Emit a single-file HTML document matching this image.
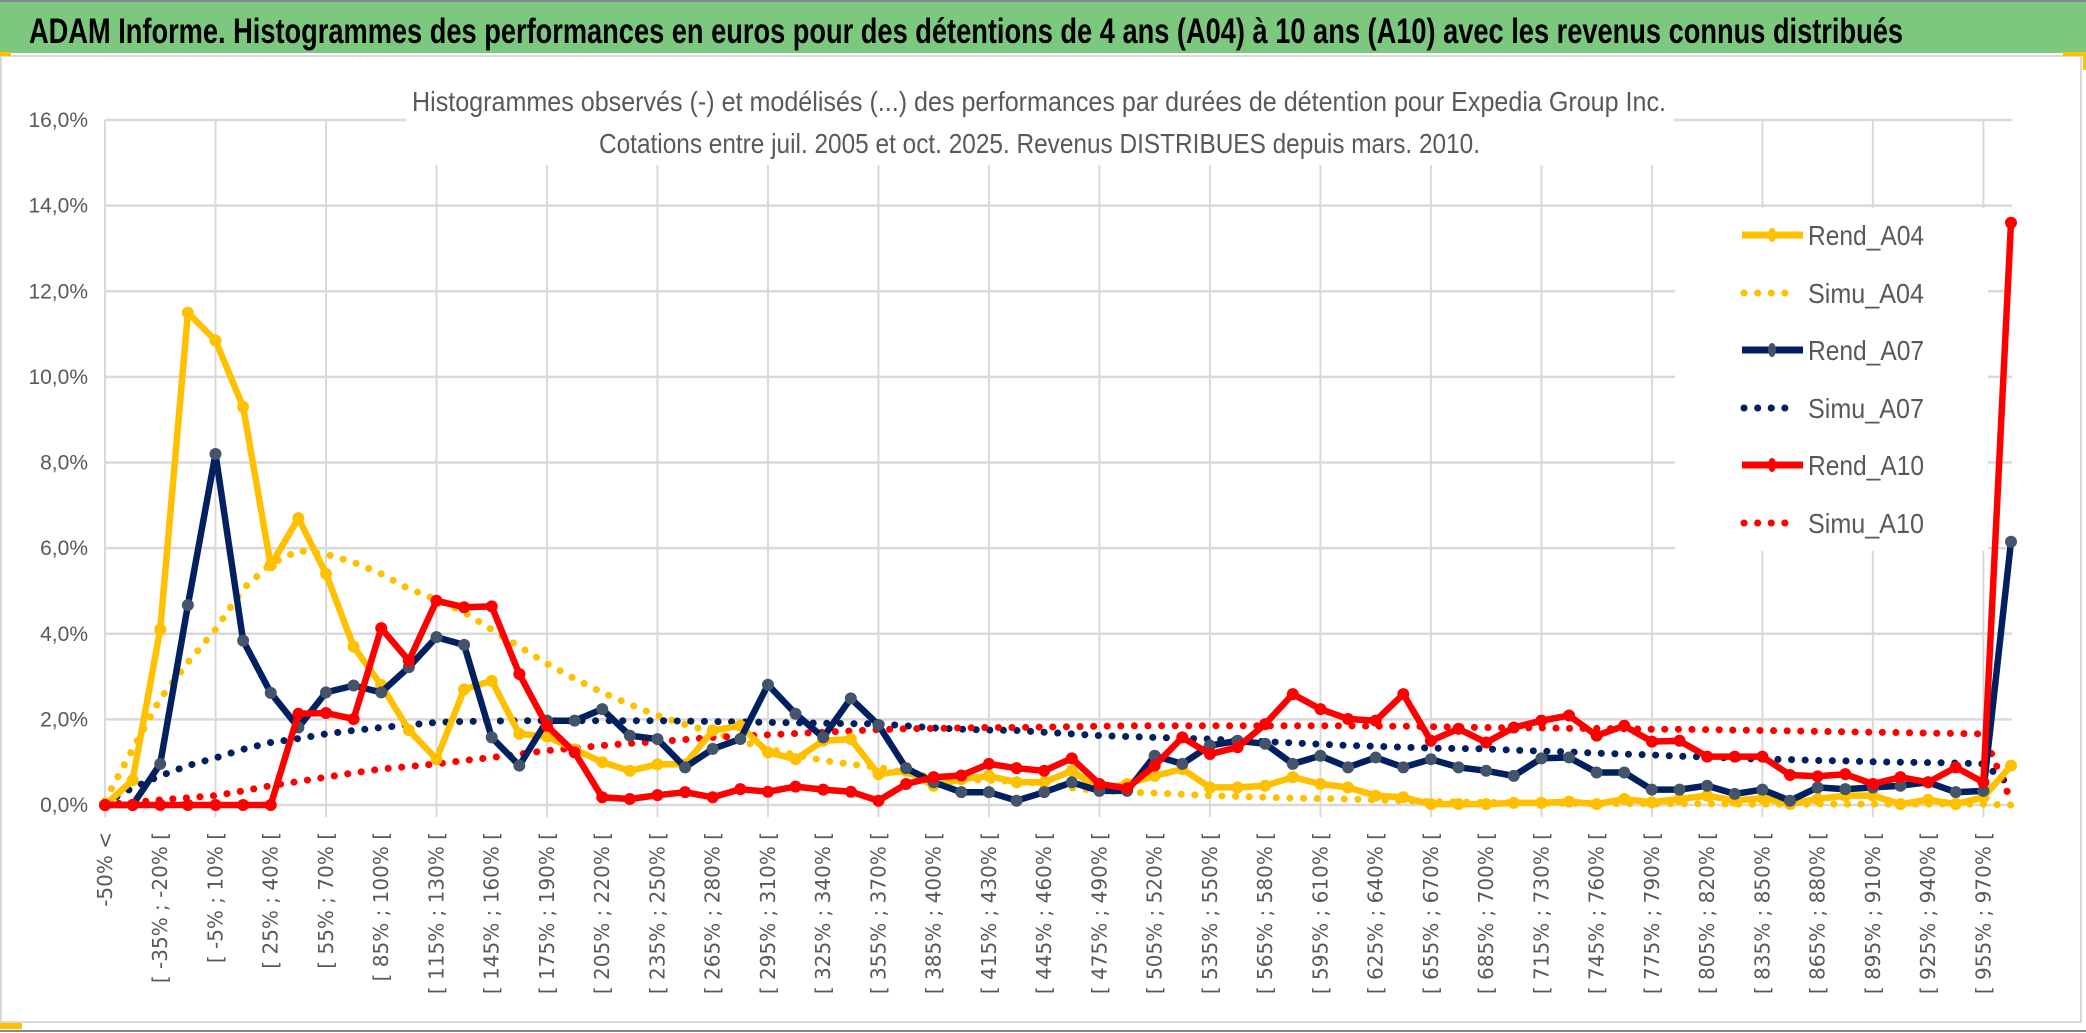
<!DOCTYPE html>
<html><head><meta charset="utf-8">
<style>
html,body{margin:0;padding:0;background:#fff;}
svg{display:block;}
text{font-family:"Liberation Sans Narrow","Liberation Sans",sans-serif;}
.xl{font-family:"DejaVu Sans","Liberation Sans",sans-serif;font-size:20px;fill:#595959;}
</style></head>
<body>
<svg id="chart" width="2086" height="1033" viewBox="0 0 2086 1033" xmlns="http://www.w3.org/2000/svg">
  <rect x="0" y="0" width="2086" height="1033" fill="#fff"/>
  <rect x="0" y="2" width="2086" height="51" fill="#7dc87f"/>
  <line x1="0" y1="1" x2="2086" y2="1" stroke="#888" stroke-width="2"/>
  <text x="29" y="43" font-size="35" font-weight="bold" fill="#000" textLength="1874" lengthAdjust="spacingAndGlyphs">ADAM Informe. Histogrammes des performances en euros pour des détentions de 4 ans (A04) à 10 ans (A10) avec les revenus connus distribués</text>
  <rect x="1" y="56" width="2080" height="966" fill="#fff" stroke="#d9d9d9" stroke-width="2"/>
  <line x1="0" y1="1031" x2="2086" y2="1031" stroke="#888" stroke-width="2"/>
  <rect x="0" y="52" width="11" height="4" fill="#ffc000"/>
  <rect x="0" y="1023" width="22" height="6" fill="#ffc000"/>
  <rect x="2063" y="52" width="23" height="4" fill="#ffc000"/>
  <rect x="2083" y="52" width="3" height="18" fill="#ffc000"/>
  <g id="grid"></g>
  <g id="series"></g>
  <g id="ylabels"></g>
  <g id="xlabels"></g>
  <rect x="406" y="58" width="1268" height="107" fill="#fff"/>
  <text x="412" y="111" font-size="28" fill="#595959" textLength="1254" lengthAdjust="spacingAndGlyphs">Histogrammes observés (-) et modélisés (...) des performances par durées de détention pour Expedia Group Inc.</text>
  <text x="599" y="153" font-size="28" fill="#595959" textLength="881" lengthAdjust="spacingAndGlyphs">Cotations entre juil. 2005 et oct. 2025. Revenus DISTRIBUES depuis mars. 2010.</text>
  <rect x="1675" y="208" width="313" height="343" fill="#fff"/>
  <g id="legend"></g>
</svg>
<script>
const categories = [];
(function(){
  categories.push("-50% <");
  for (let lo = -50; lo <= 970; lo += 15) categories.push("[ " + lo + "% ; " + (lo + 15) + "% [");
})();
const yTicks = [0, 2, 4, 6, 8, 10, 12, 14, 16];
const yTickLabels = ["0,0%","2,0%","4,0%","6,0%","8,0%","10,0%","12,0%","14,0%","16,0%"];
const rendA04 = [0,0.58,4.1,11.5,10.85,9.3,5.6,6.7,5.4,3.7,2.8,1.75,1.07,2.7,2.9,1.66,1.6,1.3,1.0,0.8,0.95,0.95,1.74,1.85,1.23,1.07,1.5,1.54,0.72,0.8,0.45,0.6,0.68,0.53,0.53,0.8,0.37,0.49,0.68,0.84,0.41,0.41,0.45,0.65,0.49,0.41,0.22,0.18,0.02,0.02,0.02,0.05,0.05,0.08,0.02,0.14,0.06,0.14,0.22,0.1,0.16,0.02,0.14,0.22,0.22,0.02,0.12,0.02,0.18,0.92];
const simuA04 = [0.1,1.3,2.48,3.33,4.1,5.05,5.63,5.94,5.86,5.67,5.4,5.05,4.8,4.5,4.1,3.7,3.3,2.95,2.63,2.35,2.09,1.88,1.7,1.5,1.31,1.17,1.04,0.95,0.88,0.75,0.65,0.6,0.58,0.55,0.5,0.4,0.33,0.3,0.28,0.25,0.22,0.2,0.18,0.16,0.15,0.14,0.12,0.1,0.08,0.07,0.06,0.05,0.05,0.04,0.04,0.03,0.03,0.03,0.03,0.02,0.02,0.02,0.02,0.02,0.02,0.02,0.02,0.02,0.02,0.0];
const rendA07 = [0,0,0.96,4.67,8.2,3.84,2.62,1.81,2.63,2.79,2.63,3.22,3.92,3.74,1.58,0.92,1.97,1.97,2.24,1.62,1.54,0.88,1.31,1.54,2.81,2.13,1.58,2.49,1.87,0.86,0.53,0.3,0.3,0.1,0.3,0.53,0.33,0.33,1.15,0.96,1.39,1.5,1.43,0.96,1.15,0.88,1.11,0.88,1.07,0.88,0.8,0.68,1.09,1.11,0.76,0.76,0.36,0.36,0.45,0.26,0.36,0.1,0.41,0.37,0.41,0.45,0.53,0.3,0.33,6.15];
const simuA07 = [0.05,0.4,0.68,0.92,1.1,1.3,1.46,1.55,1.66,1.74,1.81,1.87,1.93,1.95,1.96,1.97,1.97,1.97,1.97,1.97,1.97,1.96,1.95,1.94,1.93,1.92,1.91,1.9,1.9,1.85,1.8,1.77,1.75,1.74,1.7,1.66,1.62,1.6,1.58,1.56,1.54,1.51,1.48,1.45,1.42,1.39,1.37,1.35,1.33,1.32,1.31,1.28,1.26,1.24,1.21,1.19,1.17,1.14,1.12,1.09,1.07,1.06,1.04,1.03,1.01,1.0,0.99,0.98,0.96,0.45];
const rendA10 = [0,0,0,0,0,0,0,2.13,2.15,2.01,4.13,3.37,4.77,4.62,4.64,3.06,1.85,1.23,0.18,0.14,0.23,0.3,0.18,0.37,0.31,0.43,0.36,0.31,0.1,0.49,0.65,0.69,0.96,0.86,0.8,1.09,0.49,0.39,0.92,1.58,1.19,1.35,1.89,2.59,2.24,2.01,1.97,2.59,1.5,1.78,1.46,1.81,1.97,2.09,1.62,1.85,1.48,1.5,1.13,1.13,1.13,0.7,0.67,0.72,0.49,0.65,0.53,0.88,0.53,13.6];
const simuA10 = [0.02,0.06,0.12,0.17,0.22,0.33,0.45,0.55,0.65,0.75,0.84,0.9,0.96,1.04,1.11,1.19,1.27,1.33,1.39,1.44,1.48,1.53,1.58,1.61,1.64,1.67,1.7,1.73,1.76,1.78,1.79,1.8,1.81,1.81,1.82,1.83,1.84,1.85,1.85,1.85,1.85,1.85,1.85,1.85,1.85,1.85,1.84,1.84,1.83,1.82,1.81,1.8,1.8,1.79,1.79,1.78,1.77,1.77,1.76,1.75,1.74,1.73,1.72,1.71,1.7,1.69,1.68,1.67,1.66,0.1];
const seriesNames = ["Rend_A04","Simu_A04","Rend_A07","Simu_A07","Rend_A10","Simu_A10"];

const NS = "http://www.w3.org/2000/svg";
const X0 = 105, X1 = 2011, Y0 = 805, Y1 = 120, YMAX = 16;
const step = (X1 - X0) / (categories.length - 1);
function xs(i){ return X0 + i * step; }
function ys(v){ return Y0 - (v / YMAX) * (Y0 - Y1); }
function mk(tag, attrs, parent){
  const e = document.createElementNS(NS, tag);
  for (const k in attrs) e.setAttribute(k, attrs[k]);
  parent.appendChild(e);
  return e;
}
const grid = document.getElementById('grid');
yTicks.forEach((t, k) => {
  const l = mk('line', {x1: X0, x2: X1 + 1, y1: ys(t), y2: ys(t), stroke: '#d9d9d9', 'stroke-width': 2.5}, grid);
  
  
  const tx = mk('text', {x: 88, y: ys(t) + 7, 'text-anchor': 'end', 'font-size': 21, fill: '#595959'}, document.getElementById('ylabels'));
  tx.textContent = yTickLabels[k];
  
  
});
for (let i = 0; i < categories.length; i += 4) {
  const l = mk('line', {x1: xs(i), x2: xs(i), y1: Y1, y2: Y0 + 12, stroke: '#d9d9d9', 'stroke-width': 2}, grid);
  
  
}
const xl = document.getElementById('xlabels');
for (let i = 0; i < categories.length; i += 2) {
  const tx = mk('text', {class: 'xl', 'text-anchor': 'end', transform: 'translate(' + (xs(i) + 7) + ',832) rotate(-90)'}, xl);
  tx.textContent = categories[i];
  
  
}
const sg = document.getElementById('series');
function pts(arr){ return arr.map((v, i) => xs(i).toFixed(1) + ',' + ys(v).toFixed(1)).join(' '); }
function dotted(arr, color, name){
  const p = mk('polyline', {points: pts(arr), fill: 'none', stroke: color, 'stroke-width': 7, 'stroke-linecap': 'round', 'stroke-dasharray': '0.1 13.5'}, sg);
  
  
}
function solid(arr, color, mcolor, name){
  const p = mk('polyline', {points: pts(arr), fill: 'none', stroke: color, 'stroke-width': 6.5, 'stroke-linejoin': 'round'}, sg);
  
  
  arr.forEach((v, i) => {
    const c = mk('circle', {cx: xs(i), cy: ys(v), r: 6, fill: mcolor}, sg);
    
    
  });
}
dotted(simuA04, '#ffc000', 'simu-a04-line');
dotted(simuA07, '#002060', 'simu-a07-line');
dotted(simuA10, '#ff0000', 'simu-a10-line');
solid(rendA04, '#ffc000', '#ffc000', 'rend-a04-line');
solid(rendA07, '#002060', '#44546a', 'rend-a07-line');
solid(rendA10, '#ff0000', '#ff0000', 'rend-a10-line');

const lg = document.getElementById('legend');
const legendColors = ['#ffc000','#ffc000','#002060','#002060','#ff0000','#ff0000'];
const legendMarker = ['#ffc000',null,'#44546a',null,'#ff0000',null];
const legendY = [235, 293, 350, 408, 465, 523];
seriesNames.forEach((n, k) => {
  const y = legendY[k];
  if (legendMarker[k]) {
    const l = mk('line', {x1: 1742, x2: 1803, y1: y, y2: y, stroke: legendColors[k], 'stroke-width': 7}, lg);
    
    
    const c = mk('ellipse', {cx: 1772, cy: y, rx: 4, ry: 7, fill: legendMarker[k]}, lg);
    
    
  } else {
    const l = mk('line', {x1: 1744, x2: 1792, y1: y, y2: y, stroke: legendColors[k], 'stroke-width': 7, 'stroke-linecap': 'round', 'stroke-dasharray': '0.1 13.5'}, lg);
    
    
  }
  const t = mk('text', {x: 1808, y: y + 10, 'font-size': 28, fill: '#595959', textLength: 116, lengthAdjust: 'spacingAndGlyphs'}, lg);
  t.textContent = n;
  
  
});
</script>
</body></html>
